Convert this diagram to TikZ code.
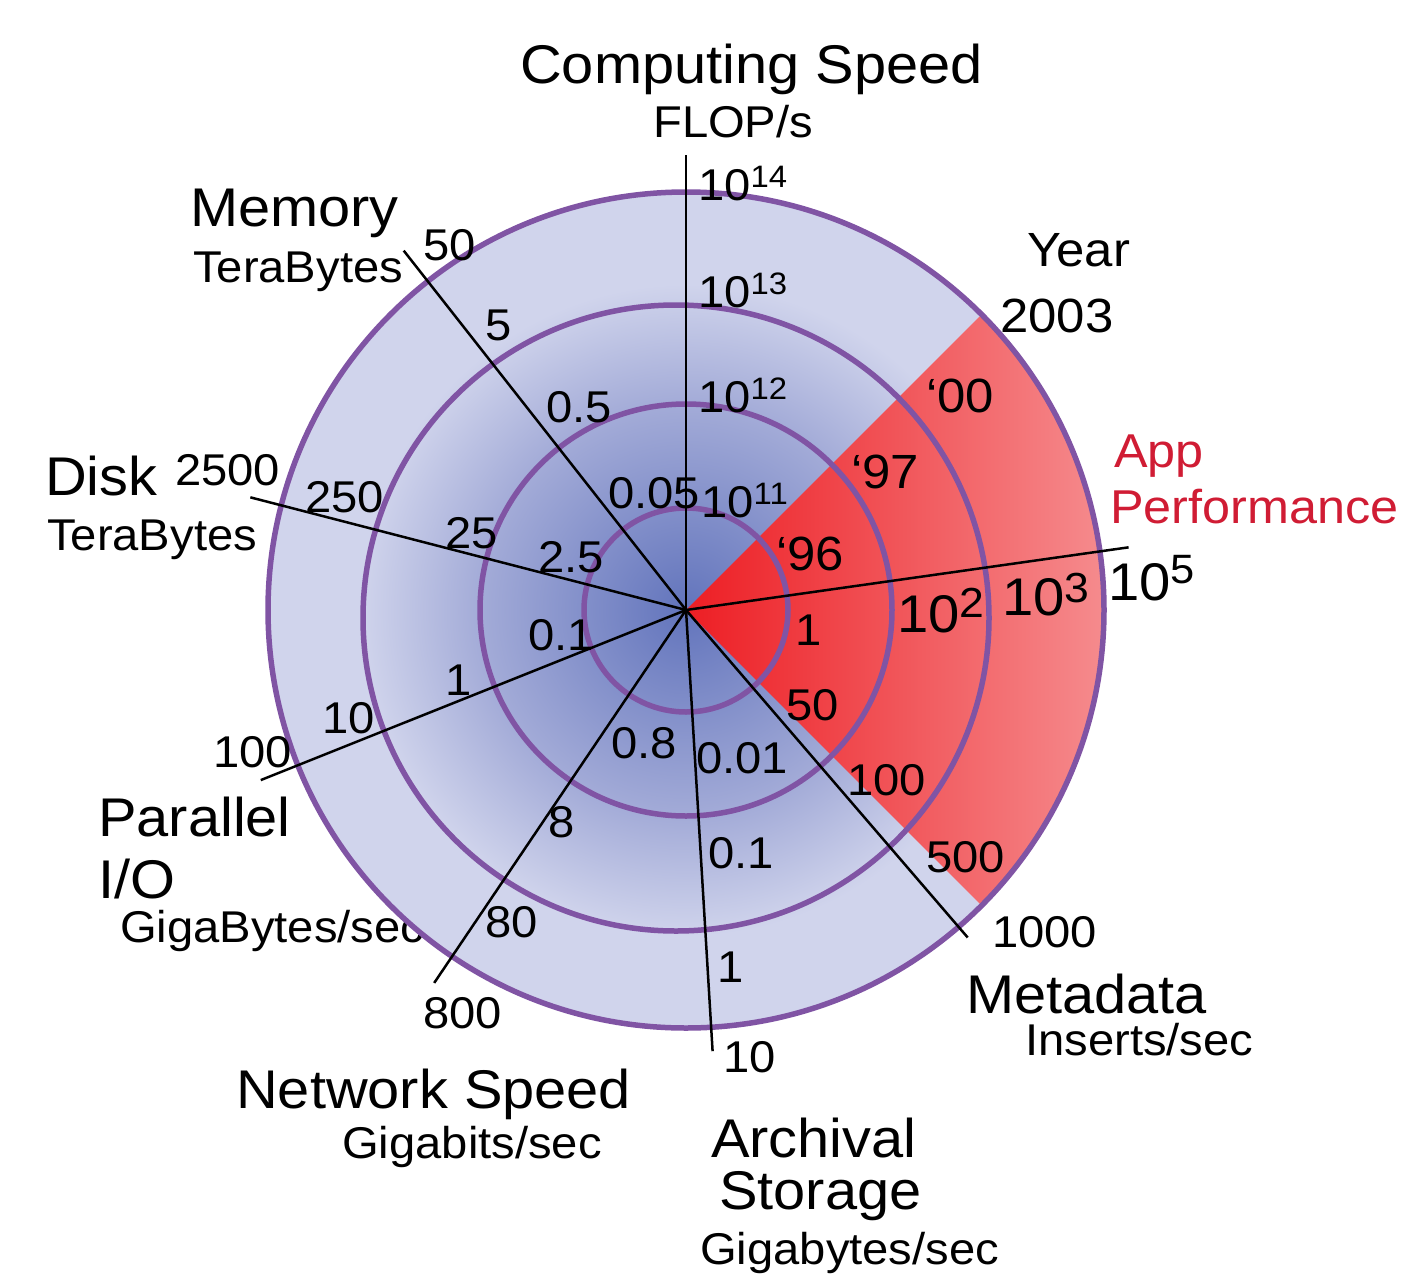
\documentclass[tikz,border=0pt]{standalone}
\usepackage{fontspec}
\setmainfont{Liberation Sans}[FakeStretch=1.06]
\definecolor{ringline}{RGB}{128,84,164}
\definecolor{diskin}{RGB}{98,116,188}
\definecolor{diskmid}{RGB}{164,172,216}
\definecolor{diskout}{RGB}{208,212,236}
\definecolor{wedgein}{RGB}{237,30,36}
\definecolor{wedgeout}{RGB}{246,150,152}
\definecolor{perfred}{RGB}{208,28,52}
\pgfdeclareradialshading{diskshade}{\pgfpoint{0bp}{0bp}}{color(0bp)=(diskin); color(12.5bp)=(diskmid); color(19.5bp)=(diskout); color(50bp)=(diskout)}
\pgfdeclarehorizontalshading{wedgeshade}{100bp}{color(0bp)=(wedgein); color(25bp)=(wedgein); color(75bp)=(wedgeout); color(100bp)=(wedgeout)}
% 10 with a raised power: power, raise, size
\newcommand{\supten}[3]{10\raisebox{#2pt}{\fontsize{#3}{#3}\selectfont #1}}

\begin{document}
\begin{tikzpicture}[x=1pt,y=1pt]
                \tikzstyle{every node}+=[inner sep=0pt,anchor=base west]
                \tikzstyle{title}=[font=\fontsize{54.5}{55}\selectfont]
                \tikzstyle{unit}=[font=\fontsize{44.5}{45}\selectfont]
                \tikzstyle{tick}=[font=\fontsize{44.5}{45}\selectfont]
                \tikzstyle{yeartick}=[font=\fontsize{48}{48}\selectfont]
                \tikzstyle{perftick}=[font=\fontsize{53}{53}\selectfont]
                \tikzstyle{perftitle}=[font=\fontsize{47.5}{48}\selectfont,text=perfred]
                \tikzstyle{ring}=[draw=ringline,line width=5.5pt]
                \tikzstyle{spoke}=[black,line width=2.5pt]
                \useasboundingbox (0,0) rectangle (1405,-1282);
                \coordinate (o) at (686,-610);
                % axis titles (under the disk)
                \node[title] (cst) at (520,-83) {Computing Speed};
                \node[unit] (csu) at (653,-137) {FLOP/s};
                \node[title] (memt) at (190,-226) {Memory};
                \node[unit] (memu) at (193,-282) {TeraBytes};
                \node[title] (dskt) at (45,-495) {Disk};
                \node[unit] (dsku) at (47,-550) {TeraBytes};
                \node[title] (piot) at (98,-836) {Parallel};
                \node[title] (pioio) at (98,-898) {I/O};
                \node[unit] (piou) at (120,-942) {GigaBytes/sec};
                \node[title] (nett) at (236,-1108) {Network Speed};
                \node[unit] (netu) at (342,-1158) {Gigabits/sec};
                \node[title] (arct) at (711,-1157) {Archival};
                \node[title] (arcs) at (719,-1209) {Storage};
                \node[unit] (arcu) at (700,-1264) {Gigabytes/sec};
                \node[title] (mett) at (966,-1013) {Metadata};
                \node[unit] (metu) at (1025,-1055) {Inserts/sec};
                \node[yeartick] (yrt) at (1027,-266) {Year};
                \node[perftitle] (appt) at (1114,-467) {App};
                \node[perftitle] (appp) at (1110,-523) {Performance};
                % disk and wedge
                \shade[shading=diskshade] (o) circle[radius=418];
                \shade[shading=wedgeshade] (o) -- ([shift={(-45:419)}]o) arc[start angle=-45,end angle=45,radius=419] -- cycle;
                \draw[ring] (o) circle[radius=102];
                \draw[ring] (o) circle[radius=206];
                \draw[ring] ([shift={(-10,-8)}]o) circle[radius=313];
                \draw[ring] (o) circle[radius=418];
                % spokes
                \foreach \nm/\ang/\len in {cs/90/455,mem/128.15/457,dsk/165.5/450,pio/201.8/458,net/235.97/450,arc/273.45/442,met/310.7/432,app/8.06/447}{
                  \coordinate (e\nm) at ([shift={(\ang:\len)}]o);
                  \draw[spoke] (o) -- (e\nm);
                }
                % computing speed
                \node[tick] (cs1) at (698,-200) {\supten{14}{13}{31}};
                \node[tick] (cs2) at (698,-307) {\supten{13}{13}{31}};
                \node[tick] (cs3) at (698,-412) {\supten{12}{13}{31}};
                \node[tick] (cs4) at (701,-517) {\supten{11}{13}{31}};
                % memory
                \node[tick] (mem1) at (423,-260) {50};
                \node[tick] (mem2) at (485,-340) {5};
                \node[tick] (mem3) at (546,-422) {0.5};
                \node[tick] (mem4) at (608,-508) {0.05};
                % disk
                \node[tick] (dsk1) at (175,-485) {2500};
                \node[tick] (dsk2) at (305,-512) {250};
                \node[tick] (dsk3) at (445,-548) {25};
                \node[tick] (dsk4) at (538,-572) {2.5};
                % parallel i/o
                \node[tick] (pio1) at (213,-767) {100};
                \node[tick] (pio2) at (322,-733) {10};
                \node[tick] (pio3) at (445,-695) {1};
                \node[tick] (pio4) at (528,-650) {0.1};
                % network
                \node[tick] (net1) at (423,-1028) {800};
                \node[tick] (net2) at (485,-937) {80};
                \node[tick] (net3) at (548,-837) {8};
                \node[tick] (net4) at (611,-758) {0.8};
                % archival
                \node[tick] (arc1) at (723,-1072) {10};
                \node[tick] (arc2) at (717,-982) {1};
                \node[tick] (arc3) at (708,-868) {0.1};
                \node[tick] (arc4) at (696,-773) {0.01};
                % metadata
                \node[tick] (met1) at (992,-947) {1000};
                \node[tick] (met2) at (926,-872) {500};
                \node[tick] (met3) at (847,-795) {100};
                \node[tick] (met4) at (786,-720) {50};
                % app performance
                \node[tick] (app1) at (795,-645) {1};
                \node[perftick] (app2) at (897,-632) {\supten{2}{15}{42}};
                \node[perftick] (app3) at (1002,-615) {\supten{3}{13}{42}};
                \node[perftick] (app4) at (1108,-600) {\supten{5}{17}{41}};
                % year
                \node[yeartick] (yr1) at (776,-570) {‘96};
                \node[yeartick] (yr2) at (851,-488) {‘97};
                \node[yeartick] (yr3) at (926,-412) {‘00};
                \node[yeartick] (yr4) at (1000,-332) {2003};
            \end{tikzpicture}
\end{document}
